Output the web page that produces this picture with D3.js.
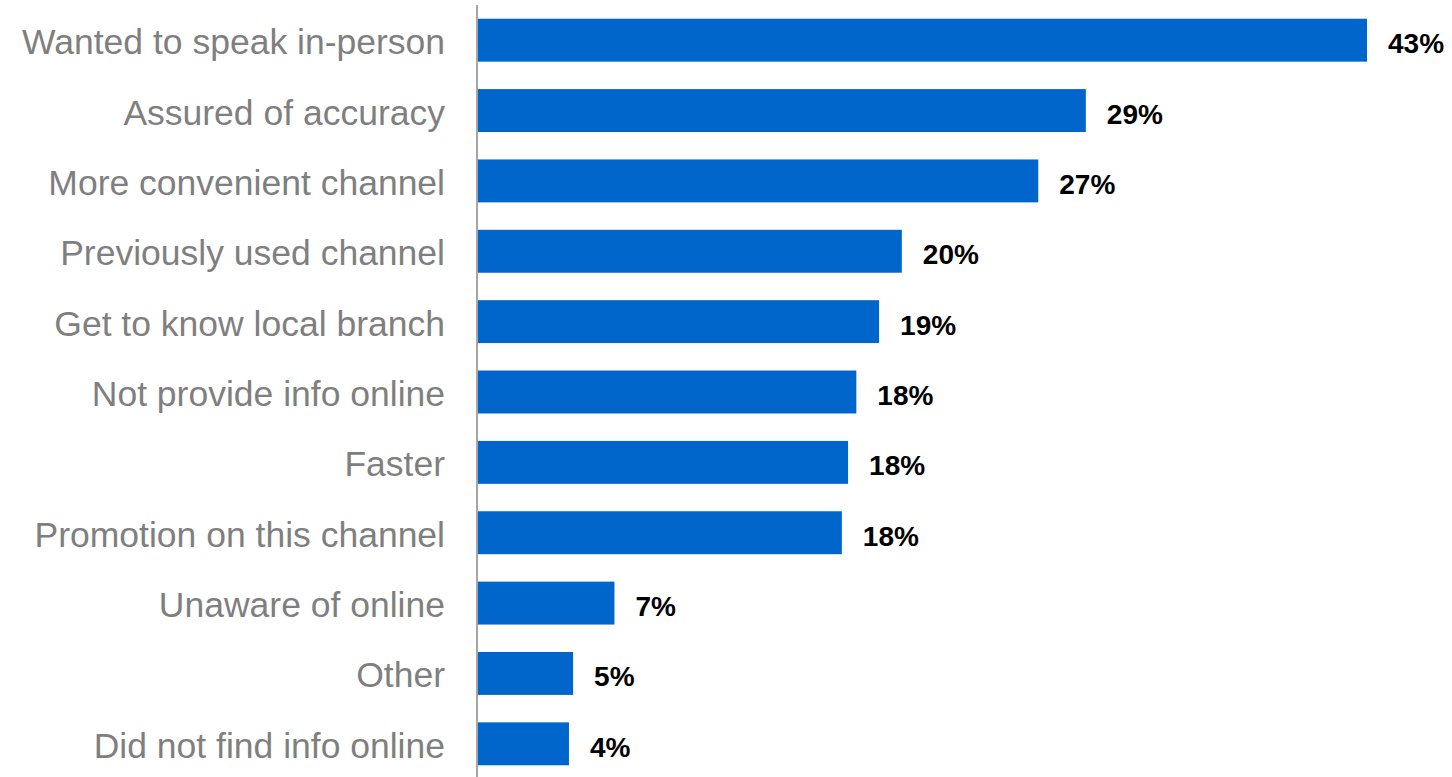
<!DOCTYPE html>
<html>
<head>
<meta charset="utf-8">
<script src="https://cdn.jsdelivr.net/npm/d3@7"></script>
<style>
  html, body { margin: 0; padding: 0; background: #fff; }
  svg { display: block; font-family: "Liberation Sans", Arial, sans-serif; }
</style>
</head>
<body>
<div id="chart"></div>
<script>
const categories = [
  "Wanted to speak in-person",
  "Assured of accuracy",
  "More convenient channel",
  "Previously used channel",
  "Get to know local branch",
  "Not provide info online",
  "Faster",
  "Promotion on this channel",
  "Unaware of online",
  "Other",
  "Did not find info online"
];
// bar lengths (unrounded)
const values = [43, 29.4, 27.1, 20.5, 19.4, 18.3, 17.9, 17.6, 6.6, 4.6, 4.4];
// percentages printed next to the bars
const valueLabels = ["43%", "29%", "27%", "20%", "19%", "18%", "18%", "18%", "7%", "5%", "4%"];

const width = 1452, height = 777;
const axisX = 477;

const svg = d3.select("#chart").append("svg")
  .attr("width", width)
  .attr("height", height);

const x = d3.scaleLinear().domain([0, 43]).range([axisX + 1, 1367]);
const y = d3.scaleBand().domain(categories).range([5, 779])
  .paddingInner(0.39).paddingOuter(0.195);

const rows = categories.map((c, i) => ({ cat: c, value: values[i], label: valueLabels[i] }));

svg.selectAll(".bar")
  .data(rows)
  .enter().append("rect")
  .attr("class", "bar")
  .attr("x", x(0))
  .attr("y", d => y(d.cat))
  .attr("width", d => x(d.value) - x(0))
  .attr("height", y.bandwidth())
  .attr("fill", "#0066cc");

// category labels
svg.selectAll(".cat")
  .data(rows)
  .enter().append("text")
  .attr("class", "cat")
  .attr("x", 445)
  .attr("y", d => y(d.cat) + y.bandwidth() / 2 + 14)
  .attr("text-anchor", "end")
  .style("font-size", "35.5px")
  .style("fill", "#7f7f7f")
  .text(d => d.cat);

// value labels
svg.selectAll(".val")
  .data(rows)
  .enter().append("text")
  .attr("class", "val")
  .attr("x", d => x(d.value) + 21)
  .attr("y", d => y(d.cat) + y.bandwidth() / 2 + 13)
  .style("font-size", "28px")
  .style("font-weight", "bold")
  .style("fill", "#000")
  .text(d => d.label);

// vertical axis line
svg.append("line")
  .attr("x1", axisX).attr("x2", axisX)
  .attr("y1", 5).attr("y2", height)
  .attr("stroke", "#a6a6a6")
  .attr("stroke-width", 2);
</script>
</body>
</html>
